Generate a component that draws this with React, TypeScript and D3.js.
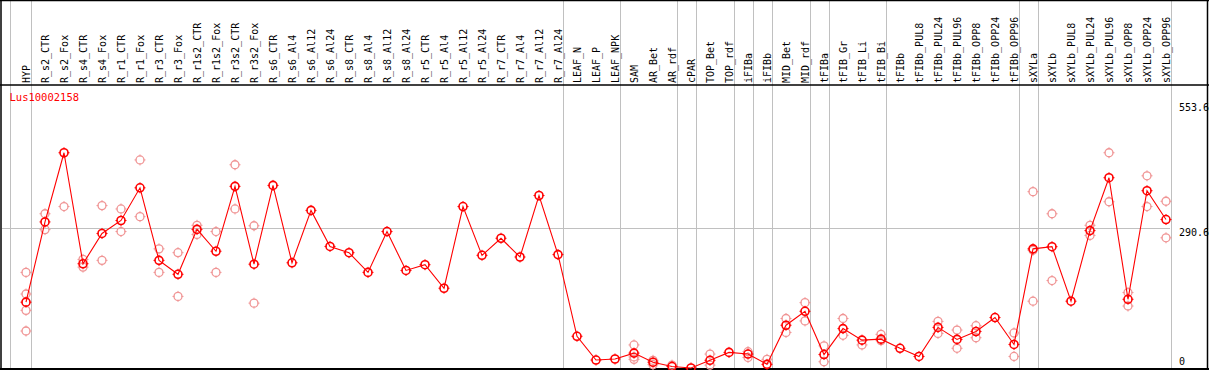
import React from "react";
import * as d3 from "d3";

const categories = [
  "HYP","R_s2_CTR","R_s2_Fox","R_s4_CTR","R_s4_Fox","R_r1_CTR","R_r1_Fox","R_r3_CTR","R_r3_Fox",
  "R_r1s2_CTR","R_r1s2_Fox","R_r3s2_CTR","R_r3s2_Fox","R_s6_CTR","R_s6_Al4","R_s6_Al12","R_s6_Al24",
  "R_s8_CTR","R_s8_Al4","R_s8_Al12","R_s8_Al24","R_r5_CTR","R_r5_Al4","R_r5_Al12","R_r5_Al24",
  "R_r7_CTR","R_r7_Al4","R_r7_Al12","R_r7_Al24","LEAF_N","LEAF_P","LEAF_NPK","SAM","AR_Bet","AR_rdf",
  "cPAR","TOP_Bet","TOP_rdf","iFIBa","iFIBb","MID_Bet","MID_rdf","tFIBa","tFIB_Gr","tFIB_Li","tFIB_Bi",
  "tFIBb","tFIBb_PUL8","tFIBb_PUL24","tFIBb_PUL96","tFIBb_OPP8","tFIBb_OPP24","tFIBb_OPP96",
  "sXYLa","sXYLb","sXYLb_PUL8","sXYLb_PUL24","sXYLb_PUL96","sXYLb_OPP8","sXYLb_OPP24","sXYLb_OPP96",
];

const meanValues = [
  137, 304, 448, 217, 280, 307, 375, 224, 195,
  288.5, 243, 378, 216, 380, 219, 328, 253,
  240, 199, 284, 203, 215, 166, 336, 234.5,
  270, 231, 359, 236, 66, 16.6, 18.7, 31, 12, 3,
  0, 16, 32.5, 29, 7.6, 89, 118, 28, 82, 58, 60,
  41, 24, 84.5, 59.5, 76, 105, 49,
  248, 252.5, 139, 286, 396, 143, 369, 309,
];

const replicateValues: number[][] = [
  [199, 154, 120, 77], [321, 288], [336], [226, 210], [338, 224], [331, 284], [433, 315], [248, 199], [240, 149],
  [297, 278], [284, 199], [423, 331], [296, 135], [], [], [], [],
  [], [], [], [], [], [], [], [],
  [], [], [], [], [], [], [], [48, 23, 18], [16, 7], [6],
  [], [29, 6], [], [34, 22], [18], [103, 74], [136, 98], [46, 13], [103, 68], [48], [70, 57],
  [], [], [97, 72], [79, 41], [88, 63], [], [73, 24],
  [367, 245, 139], [321, 182], [], [297, 276], [448, 346], [157, 129], [400, 336], [347, 271],
];

// category after which a separator line is drawn
const groupEnds = [
  "HYP","R_r7_Al24","LEAF_NPK","AR_rdf","cPAR","TOP_rdf","iFIBa","iFIBb","MID_rdf","tFIBa",
  "tFIB_Bi","tFIBb_OPP96","sXYLa","sXYLb_OPP96",
];

const yTicks = [553.6, 290.6, 0];
const geneName = "Lus10002158";

const W = 1209;
const H = 370;
const FONT = "'DejaVu Sans Mono', monospace";

function Glyph({ x, y, color, sw }: { x: number; y: number; color: string; sw: number }) {
  const r = 4;
  return (
    <g>
      <circle cx={x} cy={y} r={r} fill="none" stroke={color} strokeWidth={sw} />
      <line x1={x} x2={x} y1={y - r - 1.5} y2={y - r + 0.5} stroke={color} strokeWidth={1} />
      <line x1={x} x2={x} y1={y + r - 0.5} y2={y + r + 1.5} stroke={color} strokeWidth={1} />
      <line x1={x - r - 1.5} x2={x - r + 0.5} y1={y} y2={y} stroke={color} strokeWidth={1} />
      <line x1={x + r - 0.5} x2={x + r + 1.5} y1={y} y2={y} stroke={color} strokeWidth={1} />
    </g>
  );
}

export default function App() {
  const x = d3.scalePoint<string>().domain(categories).range([26, 26 + 19 * (categories.length - 1)]);
  const y = d3.scaleLinear().domain([0, 553.6]).range([368, 102]);
  const line = d3
    .line<number>()
    .x((_, i) => x(categories[i]) as number)
    .y((d) => y(d));

  const headerBottom = 85;
  const plotRight = 1170;

  return (
    <svg
      width={W}
      height={H}
      style={{ position: "absolute", left: 0, top: 0, background: "#fff" }}
      fontFamily={FONT}
    >
      <rect x={0} y={0} width={W} height={H} fill="#fff" />
      {/* separator lines */}
      <line x1={10.5} x2={10.5} y1={0} y2={369} stroke="#c0c0c0" strokeWidth={1} />
      {groupEnds.map((c) => {
        const gx = Math.round((x(c) as number) + 4.5) + 0.5;
        return <line key={c} x1={gx} x2={gx} y1={0} y2={369} stroke="#c0c0c0" strokeWidth={1} />;
      })}
      {/* horizontal grid at middle tick */}
      <line x1={2} x2={plotRight} y1={Math.round(y(290.6)) + 0.5} y2={Math.round(y(290.6)) + 0.5} stroke="#c0c0c0" strokeWidth={1} />

      {/* borders */}
      <line x1={0} x2={W} y1={0.5} y2={0.5} stroke="#000" strokeWidth={1.5} />
      <line x1={0} x2={W} y1={headerBottom} y2={headerBottom} stroke="#000" strokeWidth={1.5} />
      <line x1={0} x2={W} y1={369} y2={369} stroke="#000" strokeWidth={2} />
      <line x1={1} x2={1} y1={0} y2={H} stroke="#000" strokeWidth={1.5} />
      <line x1={1207.5} x2={1207.5} y1={0} y2={H} stroke="#000" strokeWidth={1.5} />

      {/* header labels */}
      {categories.map((c) => (
        <text
          key={c}
          transform={`translate(${(x(c) as number) + 4},83) rotate(-90)`}
          fontSize={10}
          fill="#000"
        >
          {c}
        </text>
      ))}

      {/* gene name */}
      <text x={9.5} y={100.5} fontSize={10.5} fill="#ff0000">
        {geneName}
      </text>

      {/* right axis labels */}
      <text x={1179} y={110.5} fontSize={10} fill="#000">{yTicks[0].toFixed(1)}</text>
      <text x={1179} y={236} fontSize={10} fill="#000">{yTicks[1].toFixed(1)}</text>
      <text x={1179} y={365} fontSize={10} fill="#000">{String(yTicks[2])}</text>

      {/* replicates */}
      {replicateValues.map((reps, i) =>
        reps.map((v, j) => (
          <Glyph key={`r${i}-${j}`} x={x(categories[i]) as number} y={y(v)} color="#f09595" sw={1.3} />
        ))
      )}

      {/* mean line */}
      <path d={line(meanValues) || ""} fill="none" stroke="#ff0000" strokeWidth={1.1} />
      {meanValues.map((v, i) => (
        <Glyph key={`m${i}`} x={x(categories[i]) as number} y={y(v)} color="#ff0000" sw={1.6} />
      ))}
    </svg>
  );
}
